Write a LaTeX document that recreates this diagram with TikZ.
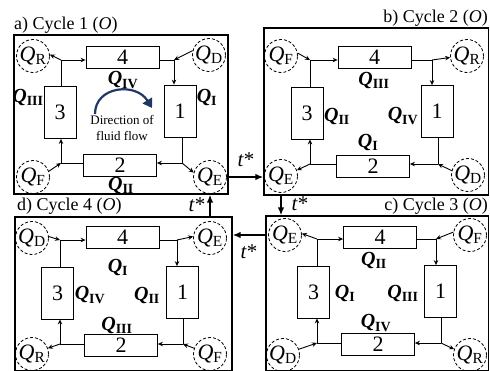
\documentclass[tikz,border=0pt]{standalone}
\usepackage{fontspec}
\setmainfont{Liberation Serif}
\usetikzlibrary{arrows.meta}
\definecolor{flowblue}{HTML}{1F3864}
\newcommand{\Qb}[1]{\textbf{\textit{Q}}\textsubscript{\textbf{#1}}}
\newcommand{\Qc}[1]{\textit{Q}\textsubscript{#1}}

\begin{document}
\begin{tikzpicture}[x=1pt, y=-1pt,
  pbox/.style={draw, line width=1.2pt, inner sep=0pt},
  hblk/.style={draw, line width=0.8pt, inner sep=0pt, minimum width=73pt,
               minimum height=22pt, font=\fontsize{22}{22}\selectfont},
  vblk/.style={draw, line width=0.8pt, inner sep=0pt, minimum width=32pt,
               minimum height=52pt, font=\fontsize{22}{22}\selectfont},
  qcirc/.style={circle, draw, dashed, dash pattern=on 3pt off 2pt, line width=0.8pt,
                minimum size=33pt, inner sep=-6pt, font=\fontsize{22}{22}\selectfont},
  qlab/.style={inner sep=0pt, font=\fontsize{20}{20}\selectfont},
  ttl/.style={inner sep=0pt, font=\fontsize{18}{18}\selectfont},
  tlab/.style={inner sep=0pt, font=\fontsize{21}{21}\selectfont},
  dtxt/.style={align=center, inner sep=0pt, font=\fontsize{13}{16}\selectfont},
  fl/.style={-{Stealth[length=5pt, width=4.5pt]}, line width=0.9pt},
  ln/.style={line width=0.9pt},
  tarr/.style={-{Latex[length=8pt, width=6.5pt]}, line width=1.7pt},
  dirarr/.style={-{Triangle[length=9pt, width=11pt]}, line width=2.2pt, draw=flowblue}
]
\useasboundingbox (0,0) rectangle (490,370);

% a) cycle 1
\node[pbox, minimum width=214pt, minimum height=159pt] (abox) at (121,114.5) {};
\node[ttl, anchor=base west] (atitle) at (14,29) {a) Cycle 1 (\textit{O})};
\node[hblk] (a4) at (122.5,57) {4};
\node[vblk] (a1) at (180,111) {1};
\node[vblk] (a3) at (60,112.5) {3};
\node[hblk] (a2) at (120,165) {2};
\node[qcirc] (aR) at (33,56) {\Qc{R}};
\node[qcirc] (aD) at (209,55) {\Qc{D}};
\node[qcirc] (aF) at (33,177) {\Qc{F}};
\node[qcirc] (aE) at (210,177) {\Qc{E}};
\coordinate (atl) at (61,60); \coordinate (atr) at (174,60);
\coordinate (abr) at (182,163); \coordinate (abl) at (61,163);
\draw[ln] (atl |- a3.north) -- (atl); \draw[fl] (atl) -- (atl -| a4.west); \draw[fl] (atl) -- (aR.5);
\draw[ln] (atr -| a4.east) -- (atr); \draw[fl] (atr) -- (atr |- a1.north); \draw[fl] (aD.165) -- (atr);
\draw[ln] (abr |- a1.south) -- (abr); \draw[fl] (abr) -- (abr -| a2.east); \draw[fl] (abr) -- (aE.165);
\draw[ln] (abl -| a2.west) -- (abl); \draw[fl] (abl) -- (abl |- a3.south); \draw[fl] (aF.20) -- (abl);
\node[qlab] (aqIV) at (123,80) {\Qb{IV}};
\node[qlab] (aqIII) at (28,97) {\Qb{III}};
\node[qlab] (aqI) at (207,97) {\Qb{I}};
\node[qlab] (aqII) at (121,185) {\Qb{II}};
\coordinate (fs) at (95,114); \coordinate (fe) at (152,108);
\draw[dirarr] (fs) .. controls (95,86) and (136,82) .. (fe);
\node[dtxt] (dir) at (122,128) {Direction of\\fluid flow};

% b) cycle 2
\node[pbox, minimum width=224.5pt, minimum height=167pt] (bbox) at (376.25,111.5) {};
\node[ttl, anchor=base east] (btitle) at (488,22) {b) Cycle 2 (\textit{O})};
\node[hblk] (b4) at (374.5,57) {4};
\node[vblk] (b1) at (437,111.5) {1};
\node[vblk] (b3) at (307,113) {3};
\node[hblk] (b2) at (373,166) {2};
\node[qcirc] (bF) at (281,56) {\Qc{F}};
\node[qcirc] (bR) at (467,56) {\Qc{R}};
\node[qcirc] (bE) at (281,176) {\Qc{E}};
\node[qcirc] (bD) at (468,175) {\Qc{D}};
\coordinate (btl) at (310,60); \coordinate (btr) at (432,60);
\coordinate (bbr) at (438,164); \coordinate (bbl) at (310,164);
\draw[ln] (btl |- b3.north) -- (btl); \draw[fl] (btl) -- (btl -| b4.west); \draw[fl] (bF.10) -- (btl);
\draw[ln] (btr -| b4.east) -- (btr); \draw[fl] (btr) -- (btr |- b1.north); \draw[fl] (btr) -- (bR.185);
\draw[ln] (bbr |- b1.south) -- (bbr); \draw[fl] (bbr) -- (bbr -| b2.east); \draw[fl] (bD.165) -- (bbr);
\draw[ln] (bbl -| b2.west) -- (bbl); \draw[fl] (bbl) -- (bbl |- b3.south); \draw[fl] (bbl) -- (bE.20);
\node[qlab] (bqIII) at (374,80) {\Qb{III}};
\node[qlab] (bqII) at (337,116) {\Qb{II}};
\node[qlab] (bqIV) at (403,116) {\Qb{IV}};
\node[qlab] (bqI) at (368,142) {\Qb{I}};

% c) cycle 3
\node[pbox, minimum width=222.5pt, minimum height=155pt] (cbox) at (377.25,293.5) {};
\node[ttl, anchor=base east] (ctitle) at (488,210) {c) Cycle 3 (\textit{O})};
\node[hblk] (c4) at (380,237.5) {4};
\node[vblk] (c1) at (440.5,291.5) {1};
\node[vblk] (c3) at (313.5,292) {3};
\node[hblk] (c2) at (378,344) {2};
\node[qcirc] (cE) at (285,235) {\Qc{E}};
\node[qcirc] (cF) at (470,235) {\Qc{F}};
\node[qcirc] (cD) at (283,355) {\Qc{D}};
\node[qcirc] (cR) at (470,355) {\Qc{R}};
\coordinate (ctl) at (317,239); \coordinate (ctr) at (436,239);
\coordinate (cbr) at (441,343); \coordinate (cbl) at (317,343);
\draw[ln] (ctl |- c3.north) -- (ctl); \draw[fl] (ctl) -- (ctl -| c4.west); \draw[fl] (ctl) -- (cE.5);
\draw[ln] (ctr -| c4.east) -- (ctr); \draw[fl] (ctr) -- (ctr |- c1.north); \draw[fl] (cF.170) -- (ctr);
\draw[ln] (cbr |- c1.south) -- (cbr); \draw[fl] (cbr) -- (cbr -| c2.east); \draw[fl] (cbr) -- (cR.160);
\draw[ln] (cbl -| c2.west) -- (cbl); \draw[fl] (cbl) -- (cbl |- c3.south); \draw[fl] (cD.20) -- (cbl);
\node[qlab] (cqII) at (374,260) {\Qb{II}};
\node[qlab] (cqI) at (345,293) {\Qb{I}};
\node[qlab] (cqIII) at (403,293) {\Qb{III}};
\node[qlab] (cqIV) at (376,323) {\Qb{IV}};

% d) cycle 4
\node[pbox, minimum width=217pt, minimum height=154pt] (dbox) at (123.5,294) {};
\node[ttl, anchor=base west] (dtitle) at (17,210) {d) Cycle 4 (\textit{O})};
\node[hblk] (d4) at (122.5,237.5) {4};
\node[vblk] (d1) at (182.5,292.5) {1};
\node[vblk] (d3) at (57.5,293) {3};
\node[hblk] (d2) at (121,345) {2};
\node[qcirc] (dD) at (32,238) {\Qc{D}};
\node[qcirc] (dE) at (210,238) {\Qc{E}};
\node[qcirc] (dR) at (32,354) {\Qc{R}};
\node[qcirc] (dF) at (210,354) {\Qc{F}};
\coordinate (dtl) at (60,240); \coordinate (dtr) at (177,240);
\coordinate (dbr) at (183,344); \coordinate (dbl) at (60,344);
\draw[ln] (dtl |- d3.north) -- (dtl); \draw[fl] (dtl) -- (dtl -| d4.west); \draw[fl] (dD.5) -- (dtl);
\draw[ln] (dtr -| d4.east) -- (dtr); \draw[fl] (dtr) -- (dtr |- d1.north); \draw[fl] (dtr) -- (dE.175);
\draw[ln] (dbr |- d1.south) -- (dbr); \draw[fl] (dbr) -- (dbr -| d2.east); \draw[fl] (dF.160) -- (dbr);
\draw[ln] (dbl -| d2.west) -- (dbl); \draw[fl] (dbl) -- (dbl |- d3.south); \draw[fl] (dbl) -- (dR.20);
\node[qlab] (dqI) at (118,267) {\Qb{I}};
\node[qlab] (dqIV) at (90,295) {\Qb{IV}};
\node[qlab] (dqII) at (147,295) {\Qb{II}};
\node[qlab] (dqIII) at (117,325) {\Qb{III}};

% t* transitions
\draw[tarr] (aE -| abox.east) -- (aE -| bbox.west);
\node[tlab] (t1) at (246,160) {\textit{t}*};
\draw[tarr] (bE |- bbox.south) -- (bE |- cbox.north);
\node[tlab] (t2) at (300,204) {\textit{t}*};
\draw[tarr] (cE -| cbox.west) -- (cE -| dbox.east);
\node[tlab] (t3) at (249,252) {\textit{t}*};
\draw[tarr] (dE |- dbox.north) -- (dE |- abox.south);
\node[tlab] (t4) at (197,205) {\textit{t}*};
\end{tikzpicture}
\end{document}
